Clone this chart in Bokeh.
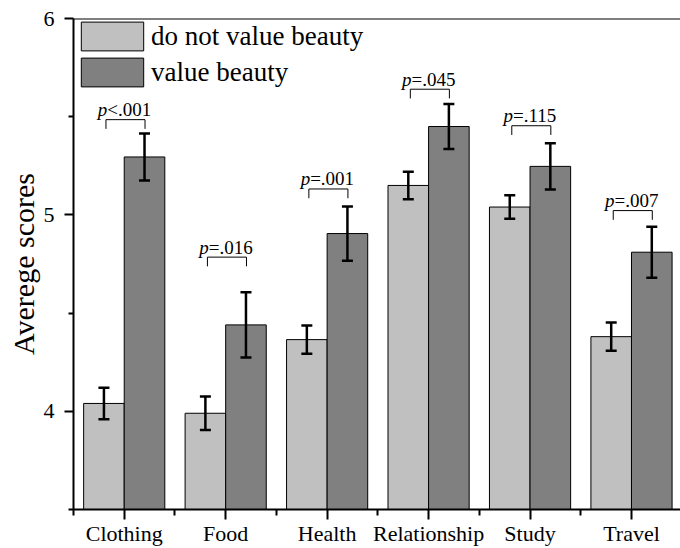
from bokeh.plotting import figure
from bokeh.models import FixedTicker, Span, Whisker, TeeHead, ColumnDataSource, Legend, LegendItem
from bokeh.core.properties import value
from bokeh.embed import file_html
from bokeh.resources import INLINE

categories = ["Clothing", "Food", "Health", "Relationship", "Study", "Travel"]
no_beauty = [4.04, 3.99, 4.365, 5.15, 5.04, 4.38]
no_beauty_err = [0.08, 0.085, 0.072, 0.07, 0.06, 0.072]
beauty = [5.295, 4.44, 4.905, 5.45, 5.247, 4.81]
beauty_err = [0.12, 0.166, 0.138, 0.115, 0.118, 0.13]
p_labels = ["<.001", "=.016", "=.001", "=.045", "=.115", "=.007"]
p_bracket = [5.485, 4.785, 5.132, 5.64, 5.454, 5.022]
y_ticks = [4, 5, 6]
y_min, y_max = 3.5, 6.0

FONT = "Liberation Serif"
LIGHT = "#C0C0C0"
DARK = "#808080"

xc = [i + 1 for i in range(len(categories))]
x_light = [x - 0.2 for x in xc]
x_dark = [x + 0.2 for x in xc]

p = figure(width=680, height=548, x_range=(0.5, 6.483), y_range=(y_min, y_max),
           output_backend="svg", toolbar_location=None,
           min_border_left=73, min_border_right=0, min_border_top=18, min_border_bottom=39)
p.outline_line_color = None
p.xgrid.visible = False
p.ygrid.visible = False

src_l = ColumnDataSource(dict(x=x_light, top=no_beauty,
                              upper=[v + e for v, e in zip(no_beauty, no_beauty_err)],
                              lower=[v - e for v, e in zip(no_beauty, no_beauty_err)]))
src_d = ColumnDataSource(dict(x=x_dark, top=beauty,
                              upper=[v + e for v, e in zip(beauty, beauty_err)],
                              lower=[v - e for v, e in zip(beauty, beauty_err)]))

r1 = p.vbar(x="x", top="top", bottom=y_min, width=0.4, source=src_l,
            fill_color=LIGHT, line_color="black", line_width=1)
r2 = p.vbar(x="x", top="top", bottom=y_min, width=0.4, source=src_d,
            fill_color=DARK, line_color="black", line_width=1)

for src in (src_l, src_d):
    w = Whisker(source=src, base="x", upper="upper", lower="lower",
                line_width=2.5, line_color="black", level="annotation",
                upper_head=TeeHead(size=11, line_width=2.5, line_color="black"),
                lower_head=TeeHead(size=11, line_width=2.5, line_color="black"))
    p.add_layout(w)

# significance brackets
leg = 0.047
xs = [[x - 0.18, x - 0.18, x + 0.205, x + 0.205] for x in xc]
ys = [[b - leg, b, b, b - leg] for b in p_bracket]
p.multi_line(xs=xs, ys=ys, line_color="black", line_width=1)

p.text(x=xc, y=p_bracket, text=["p"] * len(xc), text_font=value(FONT),
       text_font_style="italic", text_font_size="19px", text_align="right",
       text_baseline="middle", x_offset=-17, y_offset=-10, text_color="black")
p.text(x=xc, y=p_bracket, text=p_labels, text_font=value(FONT),
       text_font_size="19px", text_align="left",
       text_baseline="middle", x_offset=-17, y_offset=-10, text_color="black")

# top frame line
p.add_layout(Span(location=y_max, dimension="width", line_color="black", line_width=2))

# axes
xa = p.xaxis[0]
xa.ticker = FixedTicker(ticks=xc, minor_ticks=[x - 0.5 for x in xc] + [xc[-1] + 0.5])
xa.major_label_overrides = {x: c for x, c in zip(xc, categories)}
xa.axis_line_width = 2
xa.major_tick_line_width = 2
xa.minor_tick_line_width = 2
xa.major_tick_in = 0
xa.major_tick_out = 10
xa.minor_tick_in = 0
xa.minor_tick_out = 6
xa.major_label_text_font = FONT
xa.major_label_text_font_size = "22px"
xa.major_label_text_color = "black"
xa.major_label_standoff = 1

ya = p.yaxis[0]
ya.ticker = FixedTicker(ticks=y_ticks, minor_ticks=[3.5, 4.5, 5.5])
ya.axis_line_width = 2
ya.major_tick_line_width = 2
ya.minor_tick_line_width = 2
ya.major_tick_in = 0
ya.major_tick_out = 9
ya.minor_tick_in = 0
ya.minor_tick_out = 5
ya.major_label_text_font = FONT
ya.major_label_text_font_size = "22px"
ya.major_label_text_color = "black"
ya.major_label_standoff = 10
ya.axis_label = "Averege scores"
ya.axis_label_text_font = FONT
ya.axis_label_text_font_size = "30px"
ya.axis_label_text_font_style = "normal"
ya.axis_label_text_color = "black"
ya.axis_label_standoff = 1

legend = Legend(items=[LegendItem(label="do not value beauty", renderers=[r1]),
                       LegendItem(label="value beauty", renderers=[r2])],
                location="top_left", margin=0, padding=0, spacing=0,
                glyph_width=78, glyph_height=36, label_standoff=0,
                label_text_font=FONT, label_text_font_size="27px",
                label_text_color="black",
                border_line_color=None, background_fill_alpha=0)
p.add_layout(legend)

open("out.html", "w").write(file_html(p, INLINE))
